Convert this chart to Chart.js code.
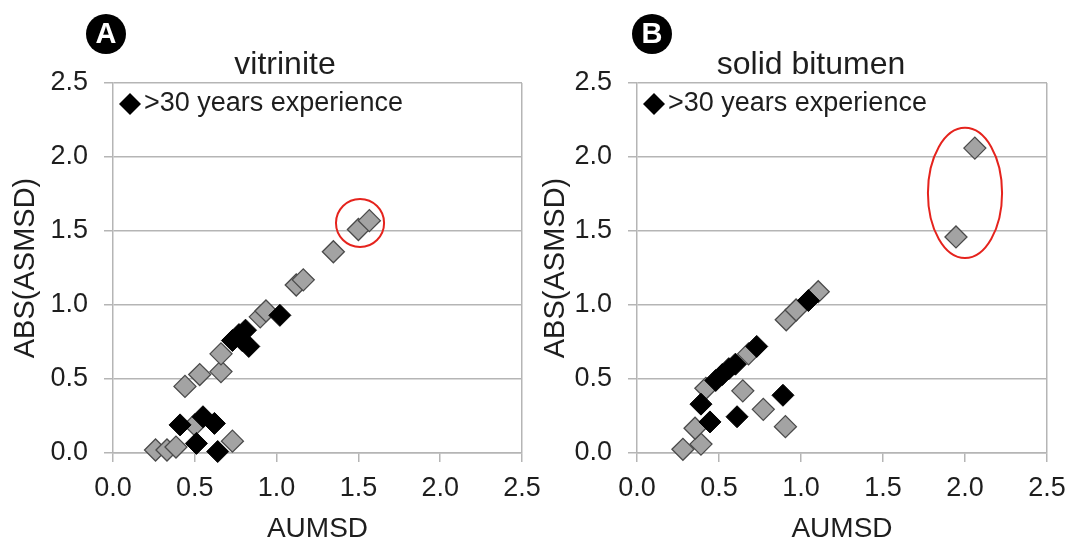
<!DOCTYPE html>
<html>
<head>
<meta charset="utf-8">
<script src="https://cdn.jsdelivr.net/npm/chart.js@4.4.1/dist/chart.umd.min.js"></script>
<style>
  html, body { margin: 0; padding: 0; background: #fff; }
  #wrap { position: relative; width: 1071px; height: 544px; overflow: hidden; }
  canvas { position: absolute; top: 0; }
  #vitChart { left: 0; }
  #bitChart { left: 530px; }
</style>
</head>
<body>
<div id="wrap">
  <canvas id="vitChart" width="548" height="544"></canvas>
  <canvas id="bitChart" width="541" height="544"></canvas>
</div>
<script>
// values
const tickValues = [0, 0.5, 1.0, 1.5, 2.0, 2.5];
const seriesLabels = ['>30 years experience', 'others'];
const panelTitles = ['vitrinite', 'solid bitumen'];
const panelLetters = ['A', 'B'];
const xTitle = 'AUMSD';
const yTitle = 'ABS(ASMSD)';

// A - vitrinite
const vitExpX = [0.41, 0.55, 0.51, 0.62, 0.64, 0.73, 0.77, 0.81, 0.83, 0.79, 1.02];
const vitExpY = [0.19, 0.245, 0.065, 0.20, 0.01, 0.76, 0.80, 0.83, 0.72, 0.76, 0.93];
const vitOtherX = [0.26, 0.33, 0.385, 0.50, 0.73, 0.44, 0.53, 0.66, 0.66, 0.90, 0.935, 1.12, 1.163, 1.347, 1.50, 1.567];
const vitOtherY = [0.02, 0.02, 0.04, 0.19, 0.08, 0.45, 0.53, 0.55, 0.67, 0.92, 0.96, 1.135, 1.17, 1.36, 1.51, 1.57];

// B - solid bitumen
const bitExpX = [0.445, 0.39, 0.61, 0.89, 0.48, 0.52, 0.56, 0.60, 0.73, 1.045];
const bitExpY = [0.21, 0.33, 0.245, 0.39, 0.49, 0.53, 0.57, 0.60, 0.72, 1.03];
const bitOtherX = [0.28, 0.39, 0.354, 0.42, 0.645, 0.77, 0.905, 0.68, 0.91, 0.97, 1.105, 1.945, 2.06];
const bitOtherY = [0.025, 0.06, 0.167, 0.437, 0.42, 0.295, 0.178, 0.67, 0.90, 0.966, 1.09, 1.46, 2.06];

// red rings (data units)
const vitRing = { x: 1.51, y: 1.554, rx: 0.147, ry: 0.162 };
const bitRing = { x: 2.0, y: 1.757, rx: 0.226, ry: 0.44 };

const textColor = '#1e1e1e';
const gridColor = '#b5b5b5';
const fontFamily = '"Liberation Sans", Arial, sans-serif';

function pts(xs, ys) {
    return xs.map((x, i) => ({ x: x, y: ys[i] }));
}

function diamond(ctx, x, y, r) {
    ctx.beginPath();
    ctx.moveTo(x - r, y);
    ctx.lineTo(x, y - r);
    ctx.lineTo(x + r, y);
    ctx.lineTo(x, y + r);
    ctx.closePath();
}

function decor(p) {
    return {
        id: 'decor',
        afterDatasetsDraw(chart) {
            const { ctx, scales } = chart;
            const e = p.ring;
            const cx = scales.x.getPixelForValue(e.x);
            const cy = scales.y.getPixelForValue(e.y);
            const rx = Math.abs(scales.x.getPixelForValue(e.x + e.rx) - cx);
            const ry = Math.abs(scales.y.getPixelForValue(e.y + e.ry) - cy);
            ctx.save();
            ctx.beginPath();
            ctx.ellipse(cx, cy, rx, ry, 0, 0, Math.PI * 2);
            ctx.strokeStyle = '#e5231d';
            ctx.lineWidth = 2;
            ctx.stroke();
            ctx.restore();
        },
        afterDraw(chart) {
            const { ctx, chartArea } = chart;
            const left = chartArea.left;
            ctx.save();
            // panel title
            ctx.fillStyle = textColor;
            ctx.font = '32px ' + fontFamily;
            ctx.textAlign = 'center';
            ctx.textBaseline = 'alphabetic';
            ctx.fillText(p.title, left + p.titleDx, 74);
            // panel letter
            ctx.beginPath();
            ctx.arc(left + p.letterDx, 34, 20, 0, Math.PI * 2);
            ctx.fillStyle = '#000';
            ctx.fill();
            ctx.fillStyle = '#fff';
            ctx.font = 'bold 29px ' + fontFamily;
            ctx.textBaseline = 'middle';
            ctx.fillText(p.letter, left + p.letterDx, 35);
            // legend (only the experienced group)
            diamond(ctx, left + 17, chartArea.top + 21, 11);
            ctx.fillStyle = '#000';
            ctx.fill();
            ctx.fillStyle = textColor;
            ctx.font = '27px ' + fontFamily;
            ctx.textAlign = 'left';
            ctx.fillText(seriesLabels[0], left + 31, chartArea.top + 21);
            ctx.restore();
        }
    };
}

function makeChart(id, p) {
    return new Chart(document.getElementById(id), {
        type: 'scatter',
        data: {
            datasets: [{
                label: seriesLabels[0],
                data: pts(p.expX, p.expY),
                pointStyle: 'rectRot',
                pointRadius: 11,
                pointHoverRadius: 11,
                backgroundColor: '#000',
                borderColor: '#000',
                borderWidth: 1,
                clip: false
            }, {
                label: seriesLabels[1],
                data: pts(p.otherX, p.otherY),
                pointStyle: 'rectRot',
                pointRadius: 11,
                pointHoverRadius: 11,
                backgroundColor: '#a3a3a3',
                borderColor: '#4a4a4a',
                borderWidth: 1.3,
                clip: false
            }]
        },
        options: {
            responsive: false,
            animation: false,
            layout: { padding: { top: 83, right: p.padRight, bottom: 0, left: 0 } },
            plugins: {
                legend: { display: false },
                tooltip: { enabled: false }
            },
            scales: {
                x: {
                    type: 'linear',
                    min: 0,
                    max: 2.5,
                    afterBuildTicks: s => { s.ticks = tickValues.map(v => ({ value: v })); },
                    afterFit: s => { s.height = 91; s.paddingLeft = 0; s.paddingRight = 0; },
                    ticks: {
                        color: textColor,
                        font: { family: fontFamily, size: 27 },
                        padding: 10,
                        maxRotation: 0,
                        callback: v => v.toFixed(1)
                    },
                    grid: {
                        color: c => (c.tick && c.tick.value === 2.5) ? gridColor : 'rgba(0,0,0,0)',
                        tickColor: gridColor,
                        tickLength: 9,
                        lineWidth: 1.5
                    },
                    border: { color: gridColor, width: 1.5 },
                    title: {
                        display: true,
                        text: xTitle,
                        color: textColor,
                        font: { family: fontFamily, size: 28, lineHeight: 1 },
                        padding: { top: 0, bottom: 1 }
                    }
                },
                y: {
                    type: 'linear',
                    min: 0,
                    max: 2.5,
                    afterBuildTicks: s => { s.ticks = tickValues.map(v => ({ value: v })); },
                    afterFit: s => { s.width = p.yWidth; s.paddingTop = 0; s.paddingBottom = 0; },
                    ticks: {
                        color: textColor,
                        font: { family: fontFamily, size: 27 },
                        padding: 16,
                        callback: v => v.toFixed(1)
                    },
                    grid: {
                        color: gridColor,
                        tickColor: gridColor,
                        tickLength: 9,
                        lineWidth: 1.5
                    },
                    border: { color: gridColor, width: 1.5 },
                    title: {
                        display: true,
                        text: yTitle,
                        color: textColor,
                        font: { family: fontFamily, size: 29, lineHeight: 1 },
                        padding: { top: 11, bottom: 0 }
                    }
                }
            }
        },
        plugins: [decor(p)]
    });
}

makeChart('vitChart', {
    expX: vitExpX, expY: vitExpY, otherX: vitOtherX, otherY: vitOtherY,
    ring: vitRing, title: panelTitles[0], letter: panelLetters[0],
    titleDx: 172, letterDx: -7, yWidth: 113, padRight: 26
});

makeChart('bitChart', {
    expX: bitExpX, expY: bitExpY, otherX: bitOtherX, otherY: bitOtherY,
    ring: bitRing, title: panelTitles[1], letter: panelLetters[1],
    titleDx: 174, letterDx: 15, yWidth: 107, padRight: 24
});
</script>
</body>
</html>
